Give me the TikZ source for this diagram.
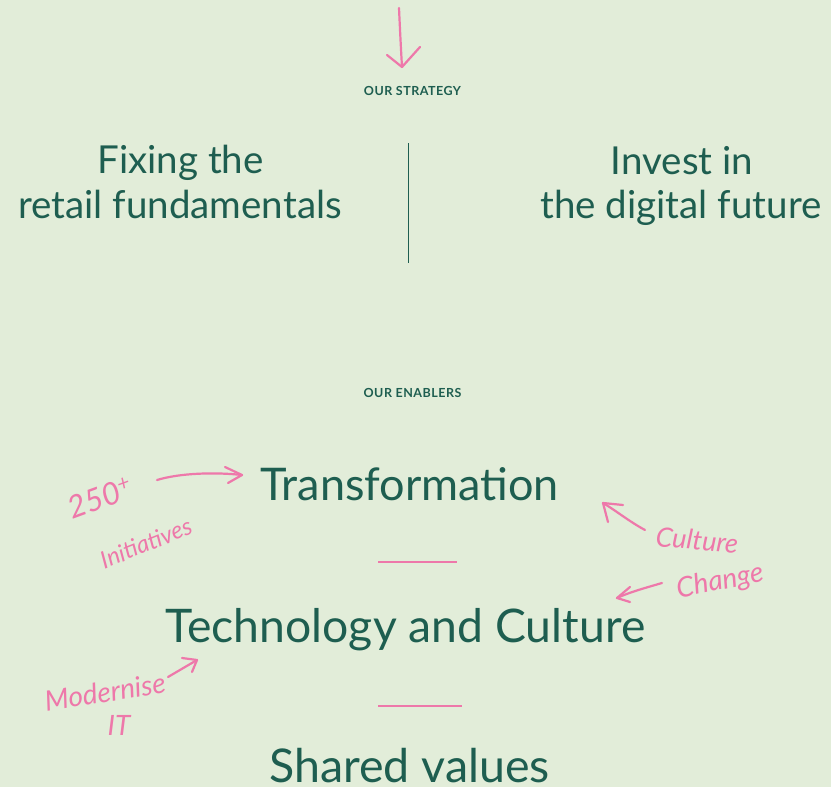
\documentclass[tikz,border=0pt]{standalone}
\usepackage{fontspec}
\setmainfont{Lato}
\newfontfamily\hand{Lato}
\definecolor{bg}{HTML}{E2EDD9}
\definecolor{ink}{HTML}{1E5E50}
\definecolor{pinkink}{HTML}{EE78AA}
\begin{document}
\begin{tikzpicture}[x=1pt,y=-1pt,
  big/.style={text=ink,font=\fontsize{38.5}{45}\selectfont,inner sep=0pt,anchor=base},
  huge/.style={text=ink,inner sep=0pt,anchor=base},
  tag/.style={text=ink,font=\bfseries\fontsize{12.5}{12.5}\selectfont\addfontfeatures{LetterSpace=4},inner sep=0pt},
  note/.style={text=pinkink,inner sep=0pt},
  pen/.style={draw=pinkink,line width=2.2pt,line cap=round,line join=round},
  rule/.style={draw=ink,line width=1pt},
  dash rule/.style={draw=pinkink,line width=1.4pt}]
\fill[bg] (0,0) rectangle (831,787);
\useasboundingbox (0,0) rectangle (831,787);
% top arrow
\coordinate (ta) at (399,8);
\coordinate (tb) at (402,67);
\draw[pen] (ta) .. controls (400,30) and (401,50) .. (tb);
\draw[pen] (387,55) -- (tb) -- (420,47);
\node[tag] (strat) at (412.5,90.5) {OUR STRATEGY};
\node[big] (fix1) at (180.5,173) {Fixing the};
\node[big] (fix2) at (180,218) {retail fundamentals};
\node[big] (inv1) at (682,174) {Invest in};
\node[big] (inv2) at (681,218) {the digital future};
\coordinate (vt) at (408,143);
\coordinate (vb) at (408,263);
\draw[rule] (vt) -- (vb);
\node[tag] (enab) at (412.5,393) {OUR ENABLERS};
\node[huge,font=\fontsize{45}{50}\selectfont] (tr) at (409.5,500) {Transformation};
\coordinate (r1a) at (378,562);
\coordinate (r1b) at (457,562);
\draw[dash rule] (r1a) -- (r1b);
\node[huge,font=\fontsize{46.3}{50}\selectfont] (tc) at (405.5,642) {Technology and Culture};
\coordinate (r2a) at (378,706);
\coordinate (r2b) at (462,706);
\draw[dash rule] (r2a) -- (r2b);
\node[huge,font=\fontsize{46.5}{50}\selectfont] (sv) at (409.5,782) {Shared values};
% annotations
\node[note,rotate=20,font=\hand\itshape\fontsize{31}{31}\selectfont] (n250) at (100,498) {250\textsuperscript{+}};
\node[note,rotate=22,font=\hand\itshape\fontsize{24}{24}\selectfont] (init) at (146,543) {Initiatives};
\coordinate (a1s) at (157,480);
\coordinate (a1e) at (242,475);
\draw[pen] (a1s) .. controls (180,473) and (215,472) .. (a1e);
\draw[pen] (225,467) -- (a1e) -- (228,483);
\node[note,rotate=-5,font=\hand\itshape\fontsize{27}{27}\selectfont] (cul) at (697,540) {Culture};
\node[note,rotate=11,font=\hand\itshape\fontsize{28}{28}\selectfont] (chg) at (720,582) {Change};
\coordinate (a2s) at (645,530);
\coordinate (a2e) at (603,503);
\draw[pen] (a2s) .. controls (630,522) and (615,510) .. (a2e);
\draw[pen] (608,522) -- (a2e) -- (623,505);
\coordinate (a3s) at (662,583);
\coordinate (a3e) at (617,598);
\draw[pen] (a3s) .. controls (645,588) and (630,592) .. (a3e);
\draw[pen] (630,587) -- (a3e) -- (630,602);
\node[note,rotate=9,font=\hand\itshape\fontsize{28}{28}\selectfont] (mod) at (105,692) {Modernise};
\node[note,font=\hand\itshape\fontsize{28}{28}\selectfont] (it) at (119,725) {IT};
\coordinate (a4s) at (168,677);
\coordinate (a4e) at (197,660);
\draw[pen] (a4s) -- (a4e);
\draw[pen] (182,658) -- (a4e) -- (192,672);
\end{tikzpicture}
\end{document}
